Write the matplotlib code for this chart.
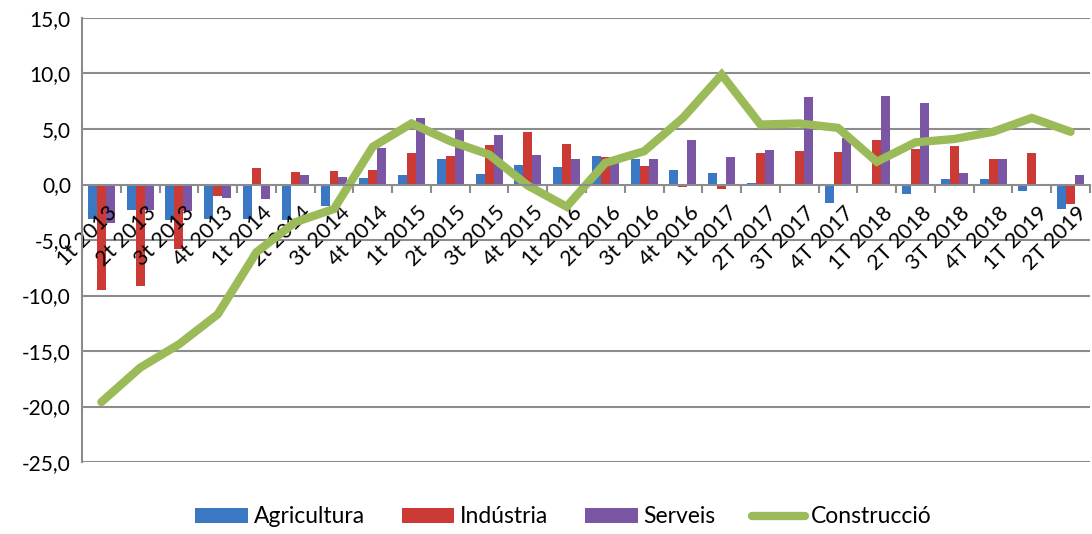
import matplotlib.pyplot as plt
import matplotlib.transforms as mtransforms
import numpy as np

# Quarterly year-on-year change by sector (%)
quarters = ['1t 2013', '2t 2013', '3t 2013', '4t 2013', '1t 2014', '2t 2014',
            '3t 2014', '4t 2014', '1t 2015', '2t 2015', '3t 2015', '4t 2015',
            '1t 2016', '2t 2016', '3t 2016', '4t 2016', '1t 2017', '2T 2017',
            '3T 2017', '4T 2017', '1T 2018', '2T 2018', '3T 2018', '4T 2018',
            '1T 2019', '2T 2019']

agricultura = [-3.1, -2.3, -3.2, -3.1, -3.1, -3.2, -1.9, 0.55, 0.85, 2.3,
               0.95, 1.8, 1.6, 2.6, 2.3, 1.3, 1.0, 0.15, -0.1, -1.7,
               -0.05, -0.85, 0.5, 0.5, -0.55, -2.2]
industria = [-9.5, -9.1, -5.8, -1.0, 1.5, 1.1, 1.2, 1.3, 2.85, 2.6,
             3.6, 4.75, 3.65, 2.5, 1.65, -0.2, -0.45, 2.8, 3.05, 2.95,
             4.0, 3.2, 3.45, 2.3, 2.8, -1.8]
serveis = [-3.5, -2.3, -2.4, -1.2, -1.3, 0.85, 0.65, 3.3, 6.0, 4.9,
           4.5, 2.7, 2.3, 1.9, 2.3, 4.0, 2.5, 3.15, 7.85, 4.2,
           8.0, 7.35, 1.0, 2.3, 0.0, 0.85]
construccio = [-19.6, -16.5, -14.4, -11.7, -6.1, -3.4, -2.2, 3.4, 5.5, 3.9,
               2.7, -0.1, -2.0, 1.95, 3.0, 6.0, 9.9, 5.4, 5.5, 5.1,
               2.05, 3.8, 4.1, 4.75, 6.0, 4.75]

yticks = [-25, -20, -15, -10, -5, 0, 5, 10, 15]

plt.rcParams['font.family'] = ['Lato', 'DejaVu Sans']

fig = plt.figure(figsize=(10.92, 5.34), dpi=100)
ax = fig.add_axes([82 / 1092, 72 / 534, 1008 / 1092, 444 / 534])

x = np.arange(len(quarters))
w = 0.232

# gridlines drawn by hand so the tick labels stay above the bars
for y in yticks:
    if y != 0:
        ax.axhline(y, color='#8c8c8c', lw=1.5, zorder=0)

b1 = ax.bar(x - w, agricultura, w, color='#3a78c4', label='Agricultura', zorder=1)
b2 = ax.bar(x, industria, w, color='#cc3a36', label='Indústria', zorder=1)
b3 = ax.bar(x + w, serveis, w, color='#7b56a5', label='Serveis', zorder=1)
l1, = ax.plot(x, construccio, color='#9bbb59', lw=6, solid_capstyle='round',
              solid_joinstyle='miter', label='Construcció', zorder=2)

ax.set_xlim(-0.5, len(quarters) - 0.5)
ax.set_ylim(-25, 15)

ax.set_yticks(yticks)
ax.set_yticklabels([f'{v:.1f}'.replace('.', ',') for v in yticks], fontsize=15)
ax.tick_params(axis='y', length=0, pad=8)

ax.spines['bottom'].set_position(('data', 0))
for s in ['top', 'right']:
    ax.spines[s].set_visible(False)
for s in ['bottom', 'left']:
    ax.spines[s].set_color('#8c8c8c')
    ax.spines[s].set_linewidth(1.5)

ax.set_xticks(x)
ax.set_xticklabels(quarters, rotation=45, ha='right', va='top',
                   rotation_mode='anchor', fontsize=15.5)
ax.set_xticks(np.arange(len(quarters) + 1) - 0.5, minor=True)
ax.tick_params(axis='x', which='major', length=0, pad=6)
ax.tick_params(axis='x', which='minor', length=6, width=1.5,
               color='#8c8c8c', direction='out')

# shift the rotated labels a little right and down, like Excel does
offset = mtransforms.ScaledTranslation(4 / 72, -7 / 72, fig.dpi_scale_trans)
for lab in ax.get_xticklabels():
    lab.set_transform(lab.get_transform() + offset)

fig.legend([b1, b2, b3, l1], ['Agricultura', 'Indústria', 'Serveis', 'Construcció'],
           loc='center', bbox_to_anchor=(0.516, 0.032), ncol=4,
           frameon=False, fontsize=16.5, handlelength=2.3, handleheight=0.6,
           handletextpad=0.25, columnspacing=1.6)

fig.savefig('out.png', dpi=100)
